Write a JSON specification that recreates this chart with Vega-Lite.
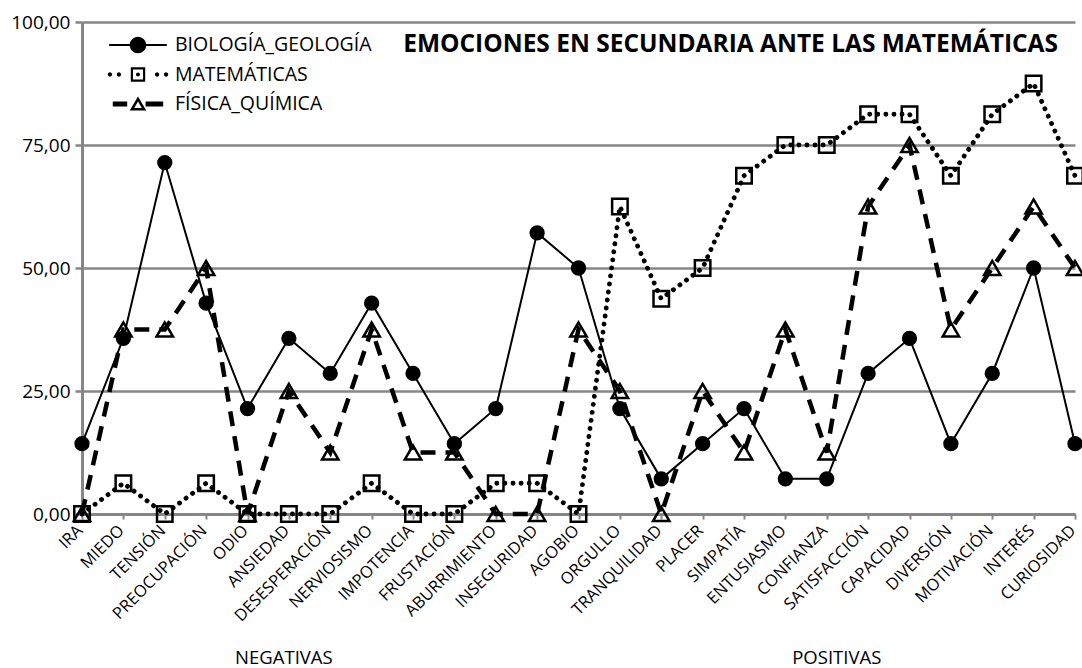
{
  "$schema": "https://vega.github.io/schema/vega-lite/v6.json",
  "width": 993,
  "height": 492,
  "autosize": {"type": "none"},
  "padding": {"left": 82, "top": 22, "right": 7, "bottom": 154},
  "background": "white",
  "config": {
    "view": {"stroke": null},
    "font": "Open Sans",
    "legend": {"labelFont": "Open Sans"}
  },
  "title": {
    "text": "EMOCIONES EN SECUNDARIA ANTE LAS MATEMÁTICAS",
    "anchor": "end",
    "orient": "top",
    "frame": "group",
    "font": "Open Sans",
    "fontSize": 24.5,
    "fontWeight": "bold",
    "color": "black",
    "baseline": "middle",
    "offset": -56,
    "dx": -17
  },
  "datasets": {
    "grupos": [
      {"e": "ANSIEDAD", "g": "NEGATIVAS", "v": -29.2},
      {"e": "CONFIANZA", "g": "POSITIVAS", "v": -29.2}
    ]
  },
  "data": {"values": [
    {"e":"IRA","s":"BIOLOGÍA_GEOLOGÍA","v":14.29},
    {"e":"MIEDO","s":"BIOLOGÍA_GEOLOGÍA","v":35.71},
    {"e":"TENSIÓN","s":"BIOLOGÍA_GEOLOGÍA","v":71.43},
    {"e":"PREOCUPACIÓN","s":"BIOLOGÍA_GEOLOGÍA","v":42.86},
    {"e":"ODIO","s":"BIOLOGÍA_GEOLOGÍA","v":21.43},
    {"e":"ANSIEDAD","s":"BIOLOGÍA_GEOLOGÍA","v":35.71},
    {"e":"DESESPERACIÓN","s":"BIOLOGÍA_GEOLOGÍA","v":28.57},
    {"e":"NERVIOSISMO","s":"BIOLOGÍA_GEOLOGÍA","v":42.86},
    {"e":"IMPOTENCIA","s":"BIOLOGÍA_GEOLOGÍA","v":28.57},
    {"e":"FRUSTACIÓN","s":"BIOLOGÍA_GEOLOGÍA","v":14.29},
    {"e":"ABURRIMIENTO","s":"BIOLOGÍA_GEOLOGÍA","v":21.43},
    {"e":"INSEGURIDAD","s":"BIOLOGÍA_GEOLOGÍA","v":57.14},
    {"e":"AGOBIO","s":"BIOLOGÍA_GEOLOGÍA","v":50.0},
    {"e":"ORGULLO","s":"BIOLOGÍA_GEOLOGÍA","v":21.43},
    {"e":"TRANQUILIDAD","s":"BIOLOGÍA_GEOLOGÍA","v":7.14},
    {"e":"PLACER","s":"BIOLOGÍA_GEOLOGÍA","v":14.29},
    {"e":"SIMPATÍA","s":"BIOLOGÍA_GEOLOGÍA","v":21.43},
    {"e":"ENTUSIASMO","s":"BIOLOGÍA_GEOLOGÍA","v":7.14},
    {"e":"CONFIANZA","s":"BIOLOGÍA_GEOLOGÍA","v":7.14},
    {"e":"SATISFACCIÓN","s":"BIOLOGÍA_GEOLOGÍA","v":28.57},
    {"e":"CAPACIDAD","s":"BIOLOGÍA_GEOLOGÍA","v":35.71},
    {"e":"DIVERSIÓN","s":"BIOLOGÍA_GEOLOGÍA","v":14.29},
    {"e":"MOTIVACIÓN","s":"BIOLOGÍA_GEOLOGÍA","v":28.57},
    {"e":"INTERÉS","s":"BIOLOGÍA_GEOLOGÍA","v":50.0},
    {"e":"CURIOSIDAD","s":"BIOLOGÍA_GEOLOGÍA","v":14.29},
    {"e":"IRA","s":"MATEMÁTICAS","v":0},
    {"e":"MIEDO","s":"MATEMÁTICAS","v":6.25},
    {"e":"TENSIÓN","s":"MATEMÁTICAS","v":0},
    {"e":"PREOCUPACIÓN","s":"MATEMÁTICAS","v":6.25},
    {"e":"ODIO","s":"MATEMÁTICAS","v":0},
    {"e":"ANSIEDAD","s":"MATEMÁTICAS","v":0},
    {"e":"DESESPERACIÓN","s":"MATEMÁTICAS","v":0},
    {"e":"NERVIOSISMO","s":"MATEMÁTICAS","v":6.25},
    {"e":"IMPOTENCIA","s":"MATEMÁTICAS","v":0},
    {"e":"FRUSTACIÓN","s":"MATEMÁTICAS","v":0},
    {"e":"ABURRIMIENTO","s":"MATEMÁTICAS","v":6.25},
    {"e":"INSEGURIDAD","s":"MATEMÁTICAS","v":6.25},
    {"e":"AGOBIO","s":"MATEMÁTICAS","v":0},
    {"e":"ORGULLO","s":"MATEMÁTICAS","v":62.5},
    {"e":"TRANQUILIDAD","s":"MATEMÁTICAS","v":43.75},
    {"e":"PLACER","s":"MATEMÁTICAS","v":50.0},
    {"e":"SIMPATÍA","s":"MATEMÁTICAS","v":68.75},
    {"e":"ENTUSIASMO","s":"MATEMÁTICAS","v":75.0},
    {"e":"CONFIANZA","s":"MATEMÁTICAS","v":75.0},
    {"e":"SATISFACCIÓN","s":"MATEMÁTICAS","v":81.25},
    {"e":"CAPACIDAD","s":"MATEMÁTICAS","v":81.25},
    {"e":"DIVERSIÓN","s":"MATEMÁTICAS","v":68.75},
    {"e":"MOTIVACIÓN","s":"MATEMÁTICAS","v":81.25},
    {"e":"INTERÉS","s":"MATEMÁTICAS","v":87.5},
    {"e":"CURIOSIDAD","s":"MATEMÁTICAS","v":68.75},
    {"e":"IRA","s":"FÍSICA_QUÍMICA","v":0},
    {"e":"MIEDO","s":"FÍSICA_QUÍMICA","v":37.5},
    {"e":"TENSIÓN","s":"FÍSICA_QUÍMICA","v":37.5},
    {"e":"PREOCUPACIÓN","s":"FÍSICA_QUÍMICA","v":50.0},
    {"e":"ODIO","s":"FÍSICA_QUÍMICA","v":0},
    {"e":"ANSIEDAD","s":"FÍSICA_QUÍMICA","v":25.0},
    {"e":"DESESPERACIÓN","s":"FÍSICA_QUÍMICA","v":12.5},
    {"e":"NERVIOSISMO","s":"FÍSICA_QUÍMICA","v":37.5},
    {"e":"IMPOTENCIA","s":"FÍSICA_QUÍMICA","v":12.5},
    {"e":"FRUSTACIÓN","s":"FÍSICA_QUÍMICA","v":12.5},
    {"e":"ABURRIMIENTO","s":"FÍSICA_QUÍMICA","v":0},
    {"e":"INSEGURIDAD","s":"FÍSICA_QUÍMICA","v":0},
    {"e":"AGOBIO","s":"FÍSICA_QUÍMICA","v":37.5},
    {"e":"ORGULLO","s":"FÍSICA_QUÍMICA","v":25.0},
    {"e":"TRANQUILIDAD","s":"FÍSICA_QUÍMICA","v":0},
    {"e":"PLACER","s":"FÍSICA_QUÍMICA","v":25.0},
    {"e":"SIMPATÍA","s":"FÍSICA_QUÍMICA","v":12.5},
    {"e":"ENTUSIASMO","s":"FÍSICA_QUÍMICA","v":37.5},
    {"e":"CONFIANZA","s":"FÍSICA_QUÍMICA","v":12.5},
    {"e":"SATISFACCIÓN","s":"FÍSICA_QUÍMICA","v":62.5},
    {"e":"CAPACIDAD","s":"FÍSICA_QUÍMICA","v":75.0},
    {"e":"DIVERSIÓN","s":"FÍSICA_QUÍMICA","v":37.5},
    {"e":"MOTIVACIÓN","s":"FÍSICA_QUÍMICA","v":50.0},
    {"e":"INTERÉS","s":"FÍSICA_QUÍMICA","v":62.5},
    {"e":"CURIOSIDAD","s":"FÍSICA_QUÍMICA","v":50.0}
  ]},
  "encoding": {
    "x": {
      "field": "e", "type": "nominal", "sort": null,
      "scale": {"type": "point", "padding": 0},
      "axis": {
        "title": null,
        "labelAngle": -45,
        "labelFont": "Open Sans",
        "labelFontSize": 16.5,
        "labelColor": "black",
        "labelPadding": 3,
        "labelOffset": -8,
        "domainColor": "#868686",
        "domainWidth": 3,
        "tickColor": "#868686",
        "tickWidth": 2,
        "tickSize": 5,
        "grid": false,
        "labelOverlap": false
      }
    },
    "y": {
      "field": "v", "type": "quantitative",
      "scale": {"domain": [0, 100], "nice": false, "zero": true},
      "axis": {
        "title": null,
        "values": [0, 25, 50, 75, 100],
        "labelExpr": "replace(format(datum.value, '.2f'), '.', ',')",
        "labelFont": "Open Sans",
        "labelFontSize": 19,
        "labelColor": "black",
        "labelPadding": 5,
        "domainColor": "#868686",
        "domainWidth": 3,
        "tickColor": "#868686",
        "tickWidth": 2.5,
        "tickSize": 7,
        "grid": true,
        "gridColor": "#868686",
        "gridWidth": 2.5,
        "gridOpacity": 1
      }
    }
  },
  "layer": [
    {
      "transform": [{"filter": "datum.s === 'FÍSICA_QUÍMICA'"}],
      "mark": {"type": "line", "color": "black", "strokeWidth": 4.5, "strokeDash": [15, 10], "strokeCap": "butt"}
    },
    {
      "transform": [{"filter": "datum.s === 'MATEMÁTICAS'"}],
      "mark": {"type": "line", "color": "black", "strokeWidth": 4.8, "strokeDash": [0.1, 8], "strokeCap": "round"}
    },
    {
      "transform": [{"filter": "datum.s === 'BIOLOGÍA_GEOLOGÍA'"}],
      "mark": {"type": "line", "color": "black", "strokeWidth": 2}
    },
    {
      "transform": [{"filter": "datum.s === 'FÍSICA_QUÍMICA'"}],
      "mark": {"type": "point", "shape": "triangle-up", "filled": false, "color": "black", "strokeWidth": 2.5, "size": 270, "opacity": 1}
    },
    {
      "transform": [{"filter": "datum.s === 'MATEMÁTICAS'"}],
      "mark": {"type": "point", "shape": "square", "filled": false, "color": "black", "strokeWidth": 2.5, "size": 240, "opacity": 1}
    },
    {
      "transform": [{"filter": "datum.s === 'BIOLOGÍA_GEOLOGÍA'"}],
      "mark": {"type": "point", "shape": "circle", "filled": true, "color": "black", "size": 235, "opacity": 1}
    },
    {
      "transform": [{"filter": "false"}],
      "mark": {"type": "point", "filled": true, "color": "black", "opacity": 1, "size": 1296, "strokeWidth": 0},
      "encoding": {
        "shape": {
          "field": "s", "type": "nominal",
          "scale": {
            "domain": ["BIOLOGÍA_GEOLOGÍA", "MATEMÁTICAS", "FÍSICA_QUÍMICA"],
            "range": [
              "M-1.6,-0.055H1.6V0.055H-1.6Z M-0.46,0A0.46,0.46,0,1,1,0.46,0A0.46,0.46,0,1,1,-0.46,0Z",
              "M-0.4,-0.4H0.4V0.4H-0.4Z M-0.28,-0.28V0.28H0.28V-0.28Z M-0.11,0A0.11,0.11,0,1,1,0.11,0A0.11,0.11,0,1,1,-0.11,0Z M-1.68,0A0.12,0.12,0,1,1,-1.44,0A0.12,0.12,0,1,1,-1.68,0Z M-1.18,0A0.12,0.12,0,1,1,-0.94,0A0.12,0.12,0,1,1,-1.18,0Z M0.94,0A0.12,0.12,0,1,1,1.18,0A0.12,0.12,0,1,1,0.94,0Z M1.44,0A0.12,0.12,0,1,1,1.68,0A0.12,0.12,0,1,1,1.44,0Z",
              "M0,-0.42L0.46,0.36L-0.46,0.36Z M0,-0.14L-0.21,0.22L0.21,0.22Z M-1.4,-0.14H-0.6V0.14H-1.4Z M0.42,-0.14H1.4V0.14H0.42Z"
            ]
          },
          "legend": {
            "title": null,
            "orient": "none",
            "legendX": 38,
            "legendY": 5,
            "padding": 0,
            "symbolSize": 1296,
            "symbolFillColor": "black",
            "symbolStrokeWidth": 0,
            "symbolOpacity": 1,
            "labelFont": "Open Sans",
            "labelFontSize": 19.5,
            "labelColor": "black",
            "labelOffset": 19,
            "labelLimit": 400,
            "rowPadding": 1.5
          }
        }
      }
    },
    {
      "data": {"name": "grupos"},
      "transform": [{"filter": "datum.g === 'NEGATIVAS'"}],
      "mark": {"type": "text", "font": "Open Sans", "fontSize": 18.5, "color": "black", "baseline": "middle", "align": "center", "dx": -5},
      "encoding": {"text": {"field": "g", "type": "nominal"}}
    },
    {
      "data": {"name": "grupos"},
      "transform": [{"filter": "datum.g === 'POSITIVAS'"}],
      "mark": {"type": "text", "font": "Open Sans", "fontSize": 18.5, "color": "black", "baseline": "middle", "align": "center", "dx": 10},
      "encoding": {"text": {"field": "g", "type": "nominal"}}
    }
  ]
}
